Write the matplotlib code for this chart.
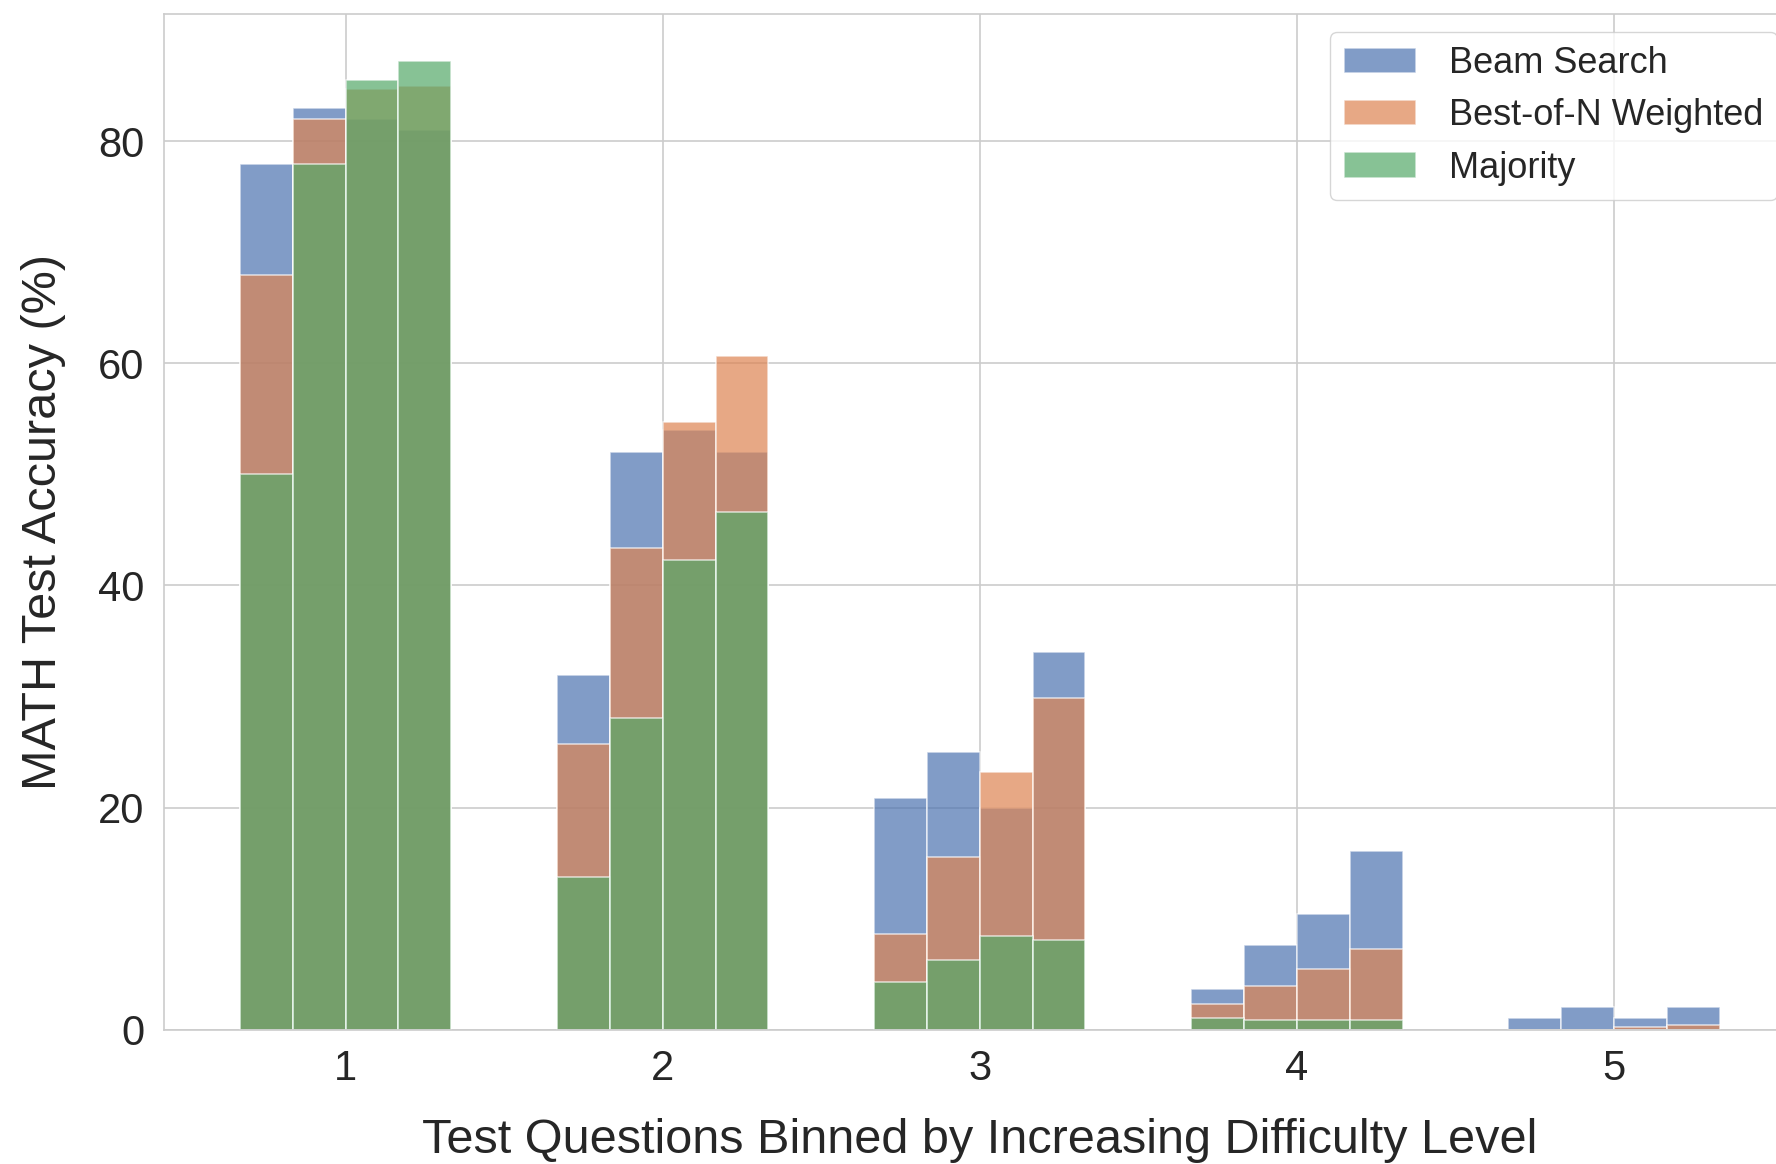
import matplotlib
matplotlib.use("Agg")
import matplotlib.pyplot as plt
import numpy as np

# Difficulty levels (x positions of the groups)
levels = [1, 2, 3, 4, 5]
level_labels = ["1", "2", "3", "4", "5"]

# Accuracy (%) per difficulty level; four bars per level (increasing budget)
beam_search = [
    [78.0, 83.0, 82.0, 81.0],
    [31.9, 52.0, 54.0, 52.0],
    [20.9, 25.0, 20.0, 34.0],
    [3.7, 7.6, 10.4, 16.1],
    [1.0, 2.0, 1.0, 2.0],
]
best_of_n_weighted = [
    [68.0, 82.0, 84.7, 85.0],
    [25.7, 43.4, 54.7, 60.7],
    [8.6, 15.5, 23.2, 29.9],
    [2.3, 3.9, 5.5, 7.3],
    [0.0, 0.0, 0.2, 0.4],
]
majority = [
    [50.0, 78.0, 85.5, 87.2],
    [13.7, 28.1, 42.3, 46.6],
    [4.3, 6.3, 8.4, 8.1],
    [1.0, 0.9, 0.9, 0.9],
    [0.0, 0.0, 0.0, 0.0],
]

series_names = ["Beam Search", "Best-of-N Weighted", "Majority"]
series_colors = ["#4C72B0", "#DD8452", "#55A868"]

plt.rcParams["font.family"] = ["Liberation Sans", "DejaVu Sans"]
text_color = "#262626"
grid_color = "#cccccc"

fig = plt.figure(figsize=(17.76, 11.64), dpi=100)
W, H = 1776.0, 1164.0
ax = fig.add_axes([164 / W, 1 - 1029.6 / H, (1795.5 - 164) / W, (1029.6 - 13.6) / H])
ax.set_facecolor("white")
ax.set_axisbelow(True)
ax.grid(True, color=grid_color, linewidth=1.2)

x = np.array(levels, dtype=float)
n_bars = len(beam_search[0])
bar_w = 1.0 / 6.0
offsets = (np.arange(n_bars) - (n_bars - 1) / 2.0) * bar_w

for data, name, color in zip([beam_search, best_of_n_weighted, majority],
                             series_names, series_colors):
    vals = np.array(data)
    for j in range(n_bars):
        ax.bar(x + offsets[j], vals[:, j], width=bar_w, color=color, alpha=0.7,
               edgecolor="white", linewidth=1.1,
               label=name if j == 0 else None)

ax.set_xlim(0.4274, 5.5726)
ax.set_ylim(0, 91.5)
ax.set_xticks(levels)
ax.set_xticklabels(level_labels)
ax.set_yticks([0, 20, 40, 60, 80])

for side, sp in ax.spines.items():
    sp.set_color(grid_color)
    sp.set_linewidth(1.2)

ax.tick_params(axis="both", length=0, labelsize=30, pad=14, colors=text_color)

ax.set_xlabel("Test Questions Binned by Increasing Difficulty Level",
              fontsize=35, color=text_color, labelpad=21)
ax.set_ylabel("MATH Test Accuracy (%)", fontsize=35, color=text_color, labelpad=23)

leg = ax.legend(loc="upper right", fontsize=26, handlelength=2.0, handleheight=0.7,
                handletextpad=0.9, labelspacing=0.48, borderpad=0.4,
                frameon=True, fancybox=True,
                framealpha=0.8, edgecolor=grid_color, borderaxespad=0.5)
for t in leg.get_texts():
    t.set_color(text_color)

fig.savefig("out.png", dpi=100, facecolor="white")
